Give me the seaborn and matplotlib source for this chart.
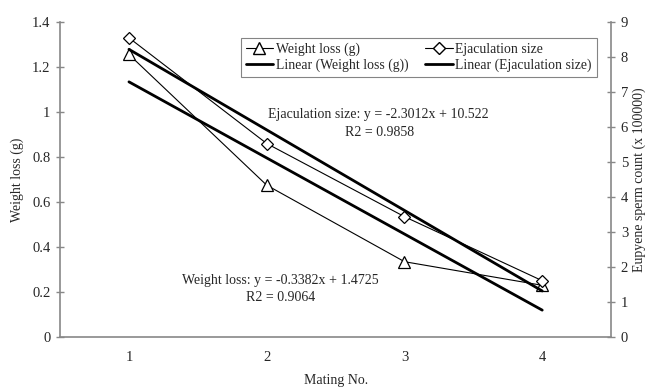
import matplotlib
matplotlib.use("Agg")
import numpy as np
import pandas as pd
import seaborn as sns
import matplotlib.pyplot as plt
from matplotlib.lines import Line2D

# values
mating = [1, 2, 3, 4]
weight_loss = [1.256, 0.675, 0.335, 0.23]          # g, left axis
ejaculation = [8.55, 5.53, 3.44, 1.61]             # x 100000, right axis

# trend line coefficients as printed on the chart
wl_slope, wl_icpt = -0.3382, 1.4725
ej_slope, ej_icpt = -2.3012, 10.522

sns.set_theme(style="white")
plt.rcParams["font.family"] = ["Liberation Serif", "DejaVu Serif"]
plt.rcParams["font.size"] = 10

df = pd.DataFrame({"mating": mating, "wl": weight_loss, "ej": ejaculation})
xs = np.array([mating[0], mating[-1]])
trend = pd.DataFrame({"x": xs,
                      "wl": wl_slope * xs + wl_icpt,
                      "ej": ej_slope * xs + ej_icpt})

fig, ax = plt.subplots(figsize=(6.46, 3.87), dpi=100)
fig.subplots_adjust(left=0.093, right=0.946, bottom=0.129, top=0.943)
ax2 = ax.twinx()

sns.lineplot(data=df, x="mating", y="wl", ax=ax, color="black", lw=0.8,
             marker="^", markersize=8, markerfacecolor="white",
             markeredgecolor="black", markeredgewidth=0.9)
sns.lineplot(data=trend, x="x", y="wl", ax=ax, color="black", lw=2)
sns.lineplot(data=df, x="mating", y="ej", ax=ax2, color="black", lw=0.8,
             marker="D", markersize=6, markerfacecolor="white",
             markeredgecolor="black", markeredgewidth=0.9)
sns.lineplot(data=trend, x="x", y="ej", ax=ax2, color="black", lw=2)

ax.set_xlim(0.5, 4.5)
ax.set_ylim(0, 1.4)
ax2.set_ylim(0, 9)
ax.set_yticks(np.arange(0, 1.41, 0.2))
ax.set_yticklabels(["0", "0.2", "0.4", "0.6", "0.8", "1", "1.2", "1.4"])
ax2.set_yticks(range(0, 10))

# category style x axis: marks between categories, labels on them
ax.set_xticks([1.5, 2.5, 3.5])
ax.set_xticklabels([])
ax.set_xticks(mating, minor=True)
ax.set_xticklabels([str(m) for m in mating], minor=True)
ax.tick_params(axis="x", which="major", direction="inout", length=8,
               color="#888888", width=1)
ax.tick_params(axis="x", which="minor", length=0, pad=10, labelsize=10.5)
ax.tick_params(axis="y", direction="inout", length=6, color="#888888",
               width=1, left=True, labelsize=10.5, pad=4)
ax2.tick_params(axis="y", direction="inout", length=6, color="#888888",
                width=1, right=True, labelsize=10.5, pad=4)

for a in (ax, ax2):
    for s in a.spines.values():
        s.set_visible(False)
ax.spines["left"].set_visible(True)
ax.spines["bottom"].set_visible(True)
ax2.spines["right"].set_visible(True)
for s in (ax.spines["left"], ax.spines["bottom"], ax2.spines["right"]):
    s.set_color("#888888")
    s.set_linewidth(1.2)

ax.set_xlabel("Mating No.", fontsize=10, labelpad=7)
ax.set_ylabel("Weight loss (g)", fontsize=10, labelpad=6)
ax2.set_ylabel("Eupyene sperm count (x 100000)", fontsize=10, labelpad=3)

ax.text(2.81, 0.987, "Ejaculation size: y = -2.3012x + 10.522",
        ha="center", va="center", fontsize=10)
ax.text(2.82, 0.911, "R2 = 0.9858", ha="center", va="center", fontsize=10)
ax.text(2.1, 0.253, "Weight loss: y = -0.3382x + 1.4725",
        ha="center", va="center", fontsize=10)
ax.text(2.1, 0.178, "R2 = 0.9064", ha="center", va="center", fontsize=10)

handles = [
    Line2D([], [], color="black", lw=0.8, marker="^", markersize=8,
           markerfacecolor="white", markeredgecolor="black"),
    Line2D([], [], color="black", lw=2),
    Line2D([], [], color="black", lw=0.8, marker="D", markersize=6,
           markerfacecolor="white", markeredgecolor="black"),
    Line2D([], [], color="black", lw=2),
]
labels = ["Weight loss (g)", "Linear (Weight loss (g))",
          "Ejaculation size", "Linear (Ejaculation size)"]
leg = ax2.legend(handles, labels, ncol=2, loc="upper left",
                 bbox_to_anchor=(0.328, 0.95), frameon=True, fancybox=False,
                 fontsize=9.9, handlelength=2.0, handletextpad=0.2,
                 columnspacing=1.2, labelspacing=0.2, borderpad=0.35,
                 borderaxespad=0)
leg.get_frame().set_edgecolor("#666666")
leg.get_frame().set_linewidth(0.8)

fig.savefig("out.png", dpi=100)
